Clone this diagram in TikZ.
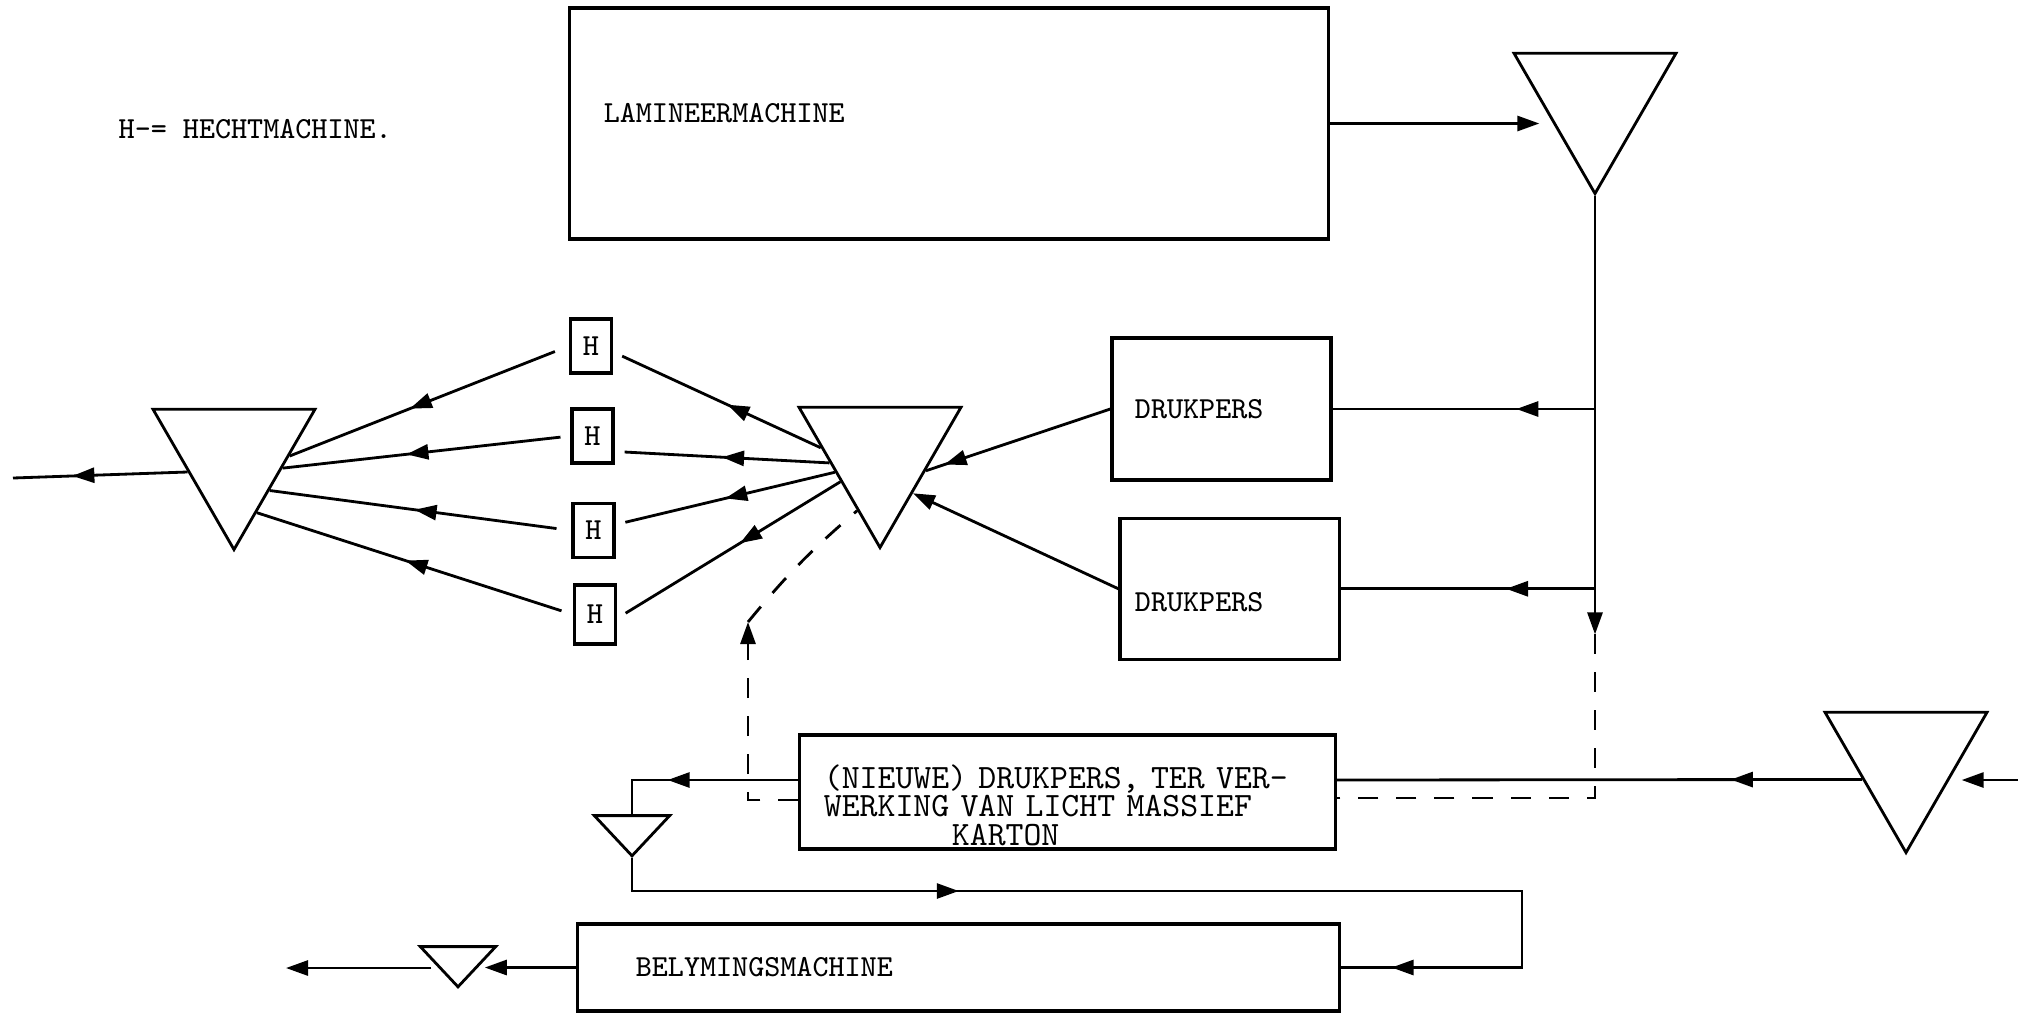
\documentclass[tikz,border=0pt]{standalone}
\usepackage{tikz}
\usetikzlibrary{arrows.meta,positioning,calc,shapes.geometric,decorations.markings}
\newcommand{\diagfont}{\ttfamily\fontsize{8.7}{8.2}\selectfont\lineskiplimit=-6pt\relax}
\newcommand{\widefont}{\ttfamily\fontsize{9.7}{8.2}\selectfont\lineskiplimit=-6pt\relax}

\begin{document}
\begin{tikzpicture}[x=0.01cm,y=-0.01cm,font=\diagfont]
\tikzset{
  box/.style={draw,line width=0.9pt,align=left,inner ysep=0pt},
  hbox/.style={draw,line width=0.9pt,minimum width=0.41cm,minimum height=0.54cm,inner sep=0pt},
  tri/.style={draw,line width=0.8pt,regular polygon,regular polygon sides=3,shape border rotate=180,inner sep=0pt,minimum size=1.87cm},
  stri/.style={tri,minimum size=0.87cm,yscale=0.616},
  arr/.style={line width=0.8pt,-{Triangle[length=2.2mm,width=1.5mm]}},
  marr/.style={line width=0.8pt,postaction={decorate,decoration={markings,mark=at position #1 with {\arrow{Triangle[length=2.2mm,width=1.5mm]}}}}},
  dsh/.style={line width=0.8pt,dash pattern=on 0.2cm off 0.18cm}
}
\useasboundingbox (0,0) rectangle (2018,1014);
% machines
\node (legend) [anchor=west,inner sep=0pt] at (118,129) {H-= HECHTMACHINE.};
\node (lam) [box,minimum width=7.58cm,minimum height=2.31cm,text width=6.9cm,inner xsep=0.34cm] at (949,123.5) {LAMINEERMACHINE\rule[-0.22cm]{0pt}{0.22cm}};
\node (dp1) [box,minimum width=2.19cm,minimum height=1.42cm,text width=1.73cm,inner xsep=0.23cm] at (1221.5,409) {DRUKPERS};
\node (dp2) [box,minimum width=2.19cm,minimum height=1.41cm,text width=1.89cm,inner xsep=0.15cm,below=0.35cm of dp1,xshift=0.08cm] {\rule{0pt}{0.45cm}DRUKPERS};
\node (nw) [box,minimum width=5.35cm,minimum height=1.14cm,text width=4.87cm,inner xsep=0.24cm,font=\widefont] at (1067.5,792) {\rule{0pt}{0.5cm}(NIEUWE) DRUKPERS, TER VER-\\WERKING VAN LICHT MASSIEF\\\hspace*{1.28cm}KARTON};
\node (bel) [box,minimum width=7.61cm,minimum height=0.87cm,text width=6.45cm,inner xsep=0.58cm] at (958.5,967.5) {BELYMINGSMACHINE};
\node (h1) [hbox] at (591,346) {H};
\node (h2) [hbox] at (592.5,436) {H};
\node (h3) [hbox] at (593.5,530.5) {H};
\node (h4) [hbox,minimum height=0.59cm] at (595,614.5) {H};
% buffers
\node (tr) [tri] at (1595,100) {};
\node (mt) [tri] at (880,454) {};
\node (lt) [tri] at (234,456) {};
\node (rt) [tri] at (1906,759) {};
\node (st1) [stri] at (632,829) {};
\node (st2) [stri] at (458,960) {};
\coordinate (vend) at ($(tr.south)+(0,438)$);
\coordinate (up) at (748,622);
\coordinate (turn) at (1522,891);
\coordinate (exit) at (13,478);
\coordinate (feed) at (2018,780);
\coordinate (done) at (286,968);
% flows
\draw[arr] (lam.east) -- (lam.east -| tr.west);
\draw[arr] (tr.south) -- (vend);
\draw[dsh] (vend) |- ([yshift=-0.06cm]nw.east);
\draw[marr=0.3] (tr.south |- dp1.east) -- (dp1.east);
\draw[marr=0.35] (tr.south |- dp2.east) -- (dp2.east);
\draw[marr=0.9] (dp1.west) -- (mt.-20);
\draw[arr] (dp2.west) -- (mt.-50);
\draw[marr=0.45,shorten >=0.1cm] (mt.174) -- (h1.-15);
\draw[marr=0.5,shorten >=0.1cm] (mt.190) -- (h2.-35);
\draw[marr=0.5,shorten >=0.1cm] (mt.202) -- (h3.15);
\draw[marr=0.45,shorten >=0.1cm] (mt.215) -- (h4.-10);
\draw[marr=0.57,shorten <=0.15cm] (h1.west) -- (lt.0);
\draw[marr=0.57,shorten <=0.1cm] (h2.west) -- (lt.-14);
\draw[marr=0.52,shorten <=0.15cm] (h3.west) -- (lt.-44);
\draw[marr=0.53,shorten <=0.12cm] (h4.west) -- (lt.-68);
\draw[marr=0.66] (lt.199) -- (exit);
\draw[arr] (feed) -- (feed -| rt.east);
\draw[marr=0.25] (rt.205) -- ([yshift=0.12cm]nw.east);
\draw[marr=0.65] ([yshift=0.12cm]nw.west) -| (st1.north);
\draw[dsh,-{Triangle[length=2.2mm,width=1.5mm]}] ([yshift=-0.08cm]nw.west) -| (up);
\draw[dsh] (up) to[bend left=5] (mt.248);
\draw[marr=0.305,marr=0.957] (st1.south) |- (turn) |- (bel.east);
\draw[arr] (bel.west) -- (bel.west -| st2.east);
\draw[arr] (done -| st2.west) -- (done);
\end{tikzpicture}
\end{document}
